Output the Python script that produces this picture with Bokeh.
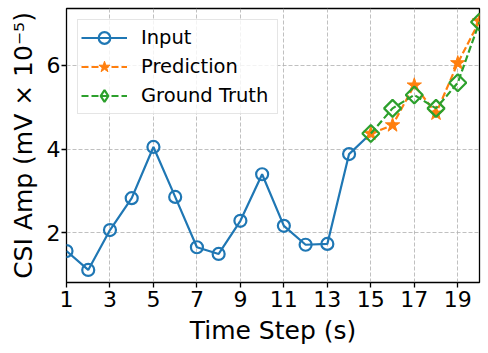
import math
from bokeh.plotting import figure
from bokeh.models import Range1d, FixedTicker, Legend, LegendItem
from bokeh.embed import file_html
from bokeh.resources import INLINE

# ---- data ----
input_steps = [1, 2, 3, 4, 5, 6, 7, 8, 9, 10, 11, 12, 13, 14]
input_vals = [1.57, 1.12, 2.07, 2.83, 4.05, 2.86, 1.66, 1.50, 2.29, 3.40, 2.17, 1.72, 1.74, 3.88]
future_steps = [15, 16, 17, 18, 19, 20]
pred_vals = [4.37, 4.57, 5.52, 4.85, 6.05, 7.05]
truth_vals = [4.37, 4.97, 5.29, 4.97, 5.58, 7.03]
x_ticks = [1, 3, 5, 7, 9, 11, 13, 15, 17, 19]
y_ticks = [2, 4, 6]

BLUE, ORANGE, GREEN = "#1f77b4", "#ff7f0e", "#2ca02c"
FONT = "DejaVu Sans"

p = figure(frame_width=413, frame_height=274, output_backend="svg", toolbar_location=None,
           x_range=Range1d(1, 20), y_range=Range1d(0.82, 7.35),
           min_border_left=66, min_border_right=2, min_border_top=8, min_border_bottom=10)
# a range that keeps the legend-key renderer out of the frame
p.extra_x_ranges = {"legend_key": Range1d(-100, -99)}

p.outline_line_color = "black"
p.outline_line_width = 1.3
p.background_fill_color = "white"

for ax in (p.xaxis[0], p.yaxis[0]):
    ax.axis_line_color = None
    ax.major_tick_line_color = "black"
    ax.major_tick_line_width = 1.3
    ax.major_tick_out = 5
    ax.major_tick_in = 0
    ax.minor_tick_line_color = None
    ax.major_label_text_font = FONT
    ax.major_label_text_font_size = "22px"
    ax.major_label_text_color = "black"
    ax.axis_label_text_font = FONT
    ax.axis_label_text_font_size = "25px"
    ax.axis_label_text_font_style = "normal"
    ax.axis_label_text_color = "black"

p.xaxis.ticker = FixedTicker(ticks=x_ticks)
p.yaxis.ticker = FixedTicker(ticks=y_ticks)
p.xaxis.major_label_standoff = 3
p.yaxis.major_label_standoff = 1
p.xaxis.axis_label = "Time Step (s)"
p.yaxis.axis_label = "CSI Amp (mV \u00d7 10\u207b\u2075)"
p.xaxis.axis_label_standoff = 6
p.yaxis.axis_label_standoff = 6

p.grid.grid_line_color = "#b0b0b0"
p.grid.grid_line_alpha = 0.8
p.grid.grid_line_dash = "4 2"
p.grid.grid_line_width = 1

# Input series (line continues to the first future point)
line_x = input_steps + future_steps[:1]
line_y = input_vals + truth_vals[:1]
r_in_line = p.line(line_x, line_y, line_color=BLUE, line_width=2.2)
r_in_pts = p.scatter(input_steps, input_vals, marker="circle", size=12,
                     fill_color=None, line_color=BLUE, line_width=2.2)

r_pr_line = p.line(future_steps, pred_vals, line_color=ORANGE, line_width=2.2, line_dash="7 3")
r_pr_pts = p.scatter(future_steps, pred_vals, marker="star", size=15,
                     fill_color=ORANGE, line_color=ORANGE, line_width=1)

r_gt_line = p.line(future_steps, truth_vals, line_color=GREEN, line_width=2.2, line_dash="7 3")
r_gt_pts = p.scatter(future_steps, truth_vals, marker="square", size=12, angle=math.pi / 4,
                     fill_color=None, line_color=GREEN, line_width=2.2)
# legend-only diamond key (legends draw markers unrotated)
r_gt_key = p.scatter(future_steps, truth_vals, marker="diamond", size=18,
                     fill_color=None, line_color=GREEN, line_width=2.2,
                     x_range_name="legend_key")

legend = Legend(items=[
    LegendItem(label="Input", renderers=[r_in_line, r_in_pts]),
    LegendItem(label="Prediction", renderers=[r_pr_line, r_pr_pts]),
    LegendItem(label="Ground Truth", renderers=[r_gt_line, r_gt_key]),
], location="top_left")
legend.margin = 11
legend.padding = 3
legend.spacing = 0
legend.glyph_height = 29
legend.label_height = 29
legend.glyph_width = 46
legend.label_standoff = 14
legend.label_width = 133
legend.label_text_font = FONT
legend.label_text_font_size = "19.5px"
legend.label_text_color = "black"
legend.border_line_color = "#cccccc"
legend.border_line_width = 1
legend.background_fill_alpha = 0.8
p.add_layout(legend, "center")

open("out.html", "w").write(file_html(p, INLINE))
